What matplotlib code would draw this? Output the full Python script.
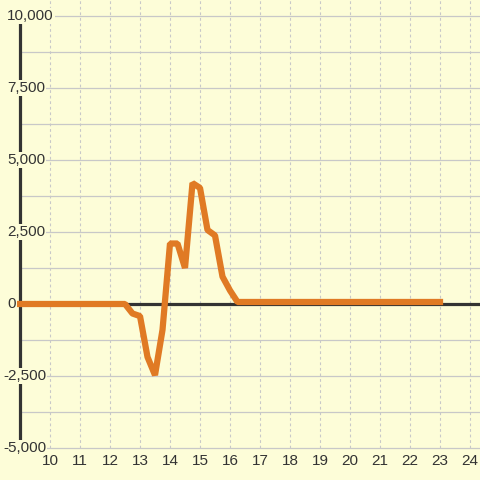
import matplotlib
matplotlib.use("Agg")
import matplotlib.pyplot as plt

# === Data (hour of day vs value) ===
hours = [9, 12.5, 12.75, 13.0, 13.25, 13.5, 13.75, 14.0, 14.25, 14.5, 14.75,
         15.0, 15.25, 15.5, 15.75, 16.0, 16.25, 23]
values = [0, 0, -330, -420, -1840, -2470, -900, 2100, 2100, 1250, 4200,
          4030, 2570, 2380, 950, 470, 70, 70]

x_ticks = list(range(10, 25))
y_ticks = [-5000, -2500, 0, 2500, 5000, 7500, 10000]
y_grid = [-5000, -3750, -2500, -1250, 0, 1250, 2500, 3750, 5000, 6250, 7500, 8750, 10000]

# === Style ===
bg = "#fdfdd8"
orange = "#e07a24"
dark = "#333333"
grid_c = "#c8c8c8"
plt.rcParams["font.family"] = ["Liberation Sans", "DejaVu Sans"]

fig = plt.figure(figsize=(4.8, 4.8), dpi=100, facecolor=bg)
ax = fig.add_axes([0, 0, 1, 1])
ax.set_facecolor(bg)
ax.axis("off")

# pixel based limits: 30 px per hour, 72 px per 2500
x0 = 10 - 50 / 30
x1 = 10 + 430 / 30
y_top = 10000 + 16 / 72 * 2500
y_bot = -5000 - 32 / 72 * 2500
ax.set_xlim(x0, x1)
ax.set_ylim(y_bot, y_top)

# gridlines
ax.hlines(y_grid, 9, x1, colors=grid_c, linewidth=0.9, zorder=1)
ax.vlines(x_ticks, -5000, y_top, colors=grid_c, linewidth=0.8,
          linestyles=(0, (2.5, 2.5)), zorder=1)

# axis line and zero line
ax.vlines(9, -5000, 10000, colors=dark, linewidth=2.3, zorder=2)
ax.hlines(0, 9, x1, colors=dark, linewidth=2.3, zorder=2)

# series
ax.plot(hours, values, color=orange, linewidth=4.5,
        solid_capstyle="projecting", solid_joinstyle="bevel", zorder=3)

# tick labels
fs = 11
for v in y_ticks:
    xpos = x0 + (7 if v >= 0 else 3) / 30
    ax.text(xpos, v, f"{v:,}", ha="left", va="center", fontsize=fs,
            color=dark, zorder=5,
            bbox=dict(facecolor=bg, edgecolor="none", pad=1.0))
for h in x_ticks:
    ax.text(h, -5000 - 13 / 72 * 2500, str(h), ha="center", va="center",
            fontsize=fs, color=dark, zorder=5)

fig.savefig("out.png", dpi=100, facecolor=bg)
